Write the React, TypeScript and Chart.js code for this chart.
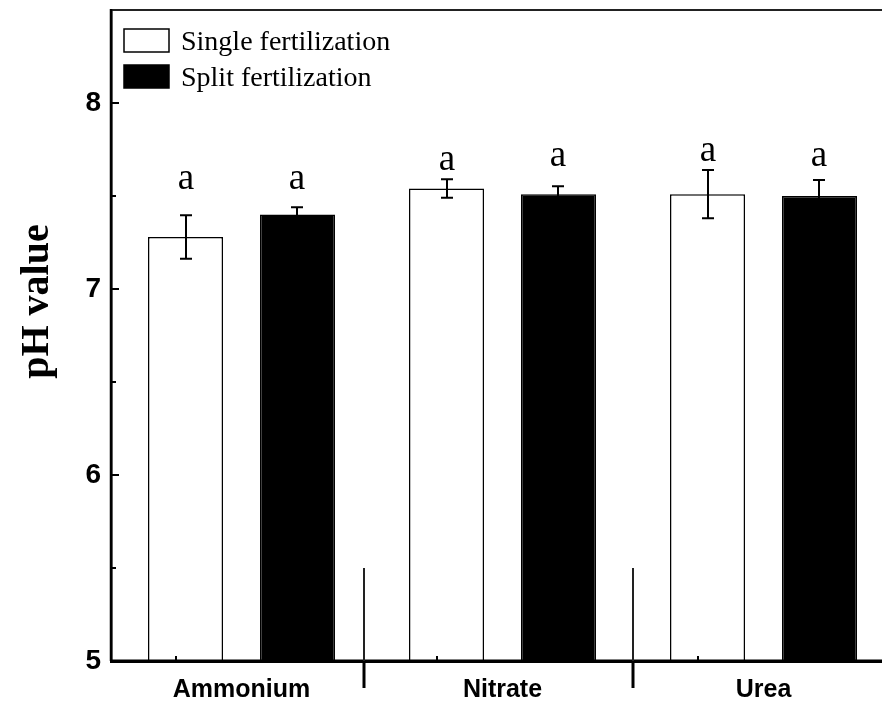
import React, { useEffect, useRef } from "react";
import { Chart, registerables } from "chart.js";

Chart.register(...registerables);

const categories = ["Ammonium", "Nitrate", "Urea"];
const seriesNames = ["Single fertilization", "Split fertilization"];
const singleValues = [7.28, 7.54, 7.51];
const splitValues = [7.4, 7.51, 7.5];
const singleErrors = [0.117, 0.05, 0.13];
const splitErrors = [0.04, 0.042, 0.086];
const singleLetters = ["a", "a", "a"];
const splitLetters = ["a", "a", "a"];
const singleLetterAt = [7.54, 7.64, 7.69];
const splitLetterAt = [7.54, 7.66, 7.66];
const yTicks = [5, 6, 7, 8];
const yMinorTicks = [5.5, 6.5, 7.5];
const xMinorTicks = [-0.25, 0.75, 1.75];
const separatorAt = [0.47, 1.5];
const separatorFrom = 5.5;
const yMin = 5;
const yMax = 8.5;
const yTitle = "pH value";

const decorPlugin = {
  id: "decor",
  afterDatasetsDraw(chart: any) {
    const { ctx, chartArea: ca, scales } = chart;
    const x = scales.x;
    const y = scales.y;
    ctx.save();
    const sets = [
      { vals: singleValues, errs: singleErrors, letters: singleLetters, at: singleLetterAt },
      { vals: splitValues, errs: splitErrors, letters: splitLetters, at: splitLetterAt },
    ];
    sets.forEach((s, di) => {
      const meta = chart.getDatasetMeta(di);
      meta.data.forEach((bar: any, i: number) => {
        const cx = Math.round(bar.x);
        const top = y.getPixelForValue(s.vals[i] + s.errs[i]);
        const bot = y.getPixelForValue(s.vals[i] - s.errs[i]);
        ctx.strokeStyle = "#000";
        ctx.lineWidth = 2;
        ctx.beginPath();
        ctx.moveTo(cx, top);
        ctx.lineTo(cx, bot);
        ctx.moveTo(cx - 6, top);
        ctx.lineTo(cx + 6, top);
        ctx.moveTo(cx - 6, bot);
        ctx.lineTo(cx + 6, bot);
        ctx.stroke();
        ctx.fillStyle = "#000";
        ctx.font = '37px "Liberation Serif"';
        ctx.textAlign = "center";
        ctx.textBaseline = "alphabetic";
        ctx.fillText(s.letters[i], cx, y.getPixelForValue(s.at[i]));
      });
    });

    // frame top & right
    ctx.strokeStyle = "#222";
    ctx.lineWidth = 2;
    ctx.beginPath();
    ctx.moveTo(ca.left, ca.top);
    ctx.lineTo(ca.right, ca.top);
    ctx.lineTo(ca.right, ca.bottom);
    ctx.stroke();

    // axes on top of bars
    ctx.strokeStyle = "#000";
    ctx.lineWidth = 3;
    ctx.beginPath();
    ctx.moveTo(ca.left - 1, ca.bottom);
    ctx.lineTo(ca.right, ca.bottom);
    ctx.stroke();
    ctx.lineWidth = 2.5;
    ctx.beginPath();
    ctx.moveTo(ca.left, ca.top - 1);
    ctx.lineTo(ca.left, ca.bottom);
    ctx.stroke();

    // y ticks inward
    ctx.strokeStyle = "#000";
    ctx.lineWidth = 2;
    ctx.beginPath();
    yTicks.forEach((v) => {
      const py = Math.round(y.getPixelForValue(v));
      ctx.moveTo(ca.left, py);
      ctx.lineTo(ca.left + 8, py);
    });
    yMinorTicks.forEach((v) => {
      const py = Math.round(y.getPixelForValue(v));
      ctx.moveTo(ca.left, py);
      ctx.lineTo(ca.left + 5, py);
    });
    xMinorTicks.forEach((v) => {
      const px = Math.round(x.getPixelForValue(v));
      ctx.moveTo(px, ca.bottom);
      ctx.lineTo(px, ca.bottom - 5);
    });
    ctx.stroke();

    // group separators
    separatorAt.forEach((v) => {
      const px = Math.round(x.getPixelForValue(v));
      ctx.strokeStyle = "#222";
      ctx.lineWidth = 2;
      ctx.beginPath();
      ctx.moveTo(px, y.getPixelForValue(separatorFrom));
      ctx.lineTo(px, ca.bottom);
      ctx.stroke();
      ctx.strokeStyle = "#000";
      ctx.lineWidth = 3;
      ctx.beginPath();
      ctx.moveTo(px, ca.bottom);
      ctx.lineTo(px, ca.bottom + 27);
      ctx.stroke();
    });

    // legend
    const lx = ca.left + 13;
    const boxes = [
      { top: ca.top + 19, fill: "#fff" },
      { top: ca.top + 55, fill: "#000" },
    ];
    boxes.forEach((b, i) => {
      ctx.fillStyle = b.fill;
      ctx.fillRect(lx, b.top, 45, 23);
      ctx.strokeStyle = "#000";
      ctx.lineWidth = 1.5;
      ctx.strokeRect(lx, b.top, 45, 23);
      ctx.fillStyle = "#000";
      ctx.font = '28px "Liberation Serif"';
      ctx.textAlign = "left";
      ctx.textBaseline = "alphabetic";
      ctx.fillText(seriesNames[i], ca.left + 70, b.top + 21);
    });

    // y title
    ctx.save();
    ctx.translate(48, (ca.top + ca.bottom) / 2 - 34);
    ctx.rotate(-Math.PI / 2);
    ctx.fillStyle = "#000";
    ctx.font = 'bold 40px "Liberation Serif"';
    ctx.textAlign = "center";
    ctx.textBaseline = "alphabetic";
    ctx.fillText(yTitle, 0, 0);
    ctx.restore();

    ctx.restore();
  },
};

export default function App() {
  const ref = useRef<HTMLCanvasElement | null>(null);
  useEffect(() => {
    document.body.style.margin = "0";
    document.body.style.overflow = "hidden";
    const canvas = ref.current;
    if (!canvas) return;
    const chart = new Chart(canvas, {
      type: "bar",
      data: {
        labels: categories,
        datasets: [
          {
            label: seriesNames[0],
            data: singleValues,
            backgroundColor: "#fff",
            borderColor: "#000",
            borderWidth: 1.5,
            categoryPercentage: 0.858,
            barPercentage: 0.67,
          },
          {
            label: seriesNames[1],
            data: splitValues,
            backgroundColor: "#000",
            borderColor: "#000",
            borderWidth: 1.5,
            categoryPercentage: 0.858,
            barPercentage: 0.67,
          },
        ],
      },
      options: {
        animation: false,
        responsive: false,
        maintainAspectRatio: false,
        layout: { padding: { left: 0, right: 6, top: 10, bottom: 0 } },
        plugins: {
          legend: { display: false },
          tooltip: { enabled: false },
          title: { display: false },
        },
        scales: {
          x: {
            type: "category",
            offset: true,
            grid: { display: false, drawTicks: false },
            border: { display: true, color: "#000", width: 3 },
            ticks: {
              color: "#000",
              font: { family: "Liberation Sans", size: 25, weight: "bold" },
              padding: 14,
              maxRotation: 0,
              autoSkip: false,
            },
            afterFit: (s: any) => {
              s.height = 43;
              s.paddingLeft = 0;
              s.paddingRight = 0;
            },
          },
          y: {
            type: "linear",
            min: yMin,
            max: yMax,
            grid: { display: false, drawTicks: false },
            border: { display: true, color: "#000", width: 2.5 },
            afterBuildTicks: (s: any) => {
              s.ticks = yTicks.map((v) => ({ value: v }));
            },
            ticks: {
              color: "#000",
              font: { family: "Liberation Sans", size: 28, weight: "bold" },
              padding: 10,
            },
            afterFit: (s: any) => {
              s.width = 111;
              s.paddingTop = 0;
              s.paddingBottom = 0;
            },
          },
        },
      },
      plugins: [decorPlugin],
    } as any);
    return () => chart.destroy();
  }, []);
  return (
    <div style={{ width: 900, height: 704, overflow: "hidden" }}>
      <canvas ref={ref} width={900} height={704} style={{ display: "block" }} />
    </div>
  );
}
